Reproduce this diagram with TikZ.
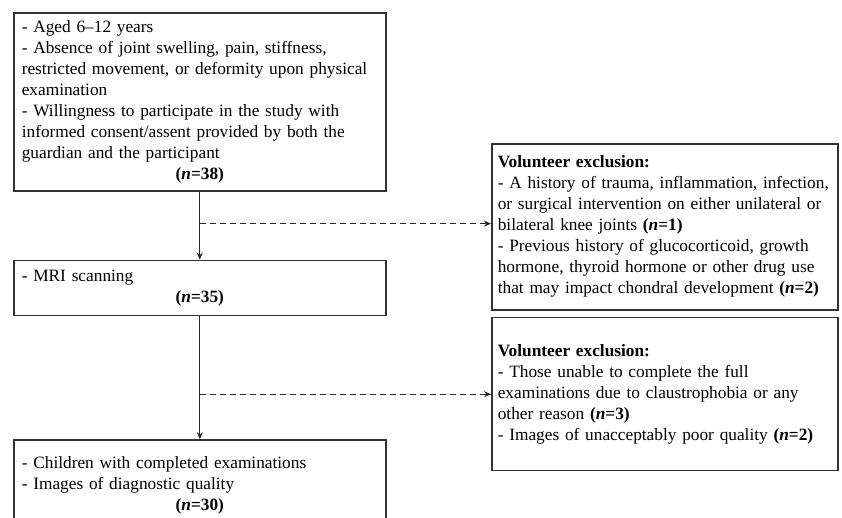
\documentclass[tikz,border=0pt]{standalone}
\usepackage{fontspec}
\setmainfont{Liberation Serif}
\usetikzlibrary{arrows.meta}
\usetikzlibrary{positioning}
\tikzstyle{flowbox} = [rectangle, draw=black!80, line width=1.6pt, align=left, inner xsep=8pt, inner ysep=0pt, font=\fontsize{17.3}{21}\selectfont]
\tikzstyle{exclbox} = [flowbox, inner xsep=6pt, text width=334pt]
\tikzstyle{flowline} = [draw=black!85, line width=1.3pt, -{Stealth[length=7pt,width=6pt]}]
\tikzstyle{exclline} = [flowline, dash pattern=on 6pt off 4pt]
\newcommand{\ncount}[1]{\textbf{(\textit{n}=#1)}}
\newcommand{\nline}[1]{\makebox[\linewidth]{\ncount{#1}}}

\begin{document}
\begin{tikzpicture}[x=1pt, y=-1pt, node distance=68pt]
\useasboundingbox (0,0) rectangle (842,517);

% left column
\node (incl) [flowbox, text width=356pt, minimum height=178pt, anchor=north west] at (13,12) {
- Aged 6--12 years\\
- Absence of joint swelling, pain, stiffness,\\
restricted movement, or deformity upon physical\\
examination\\
- Willingness to participate in the study with\\
informed consent/assent provided by both the\\
guardian and the participant\\
\nline{38}};
\node (mri) [flowbox, text width=356pt, minimum height=55pt, below=of incl] {
- MRI scanning\\
\nline{35}};
\node (final) [flowbox, text width=356pt, minimum height=90pt, below=123pt of mri] {
- Children with completed examinations\\
- Images of diagnostic quality\\
\nline{30}};

% exclusions
\node (excl1) [exclbox, minimum height=166pt, anchor=north west] at (491,143) {
\textbf{Volunteer exclusion:}\\
- A history of trauma, inflammation, infection,\\
or surgical intervention on either unilateral or\\
bilateral knee joints \ncount{1}\\
- Previous history of glucocorticoid, growth\\
hormone, thyroid hormone or other drug use\\
that may impact chondral development \ncount{2}};
\node (excl2) [exclbox, minimum height=153pt, below=6pt of excl1] {
\textbf{Volunteer exclusion:}\\
- Those unable to complete the full\\
examinations due to claustrophobia or any\\
other reason \ncount{3}\\
- Images of unacceptably poor quality \ncount{2}};

\coordinate (split1) at ([yshift=-32pt]incl.south);
\coordinate (split2) at ([yshift=-78pt]mri.south);

\draw[flowline] (incl) -- (mri);
\draw[flowline] (mri) -- (final);
\draw[exclline] (split1) -- (split1 -| excl1.west);
\draw[exclline] (split2) -- (split2 -| excl2.west);
\end{tikzpicture}
\end{document}
